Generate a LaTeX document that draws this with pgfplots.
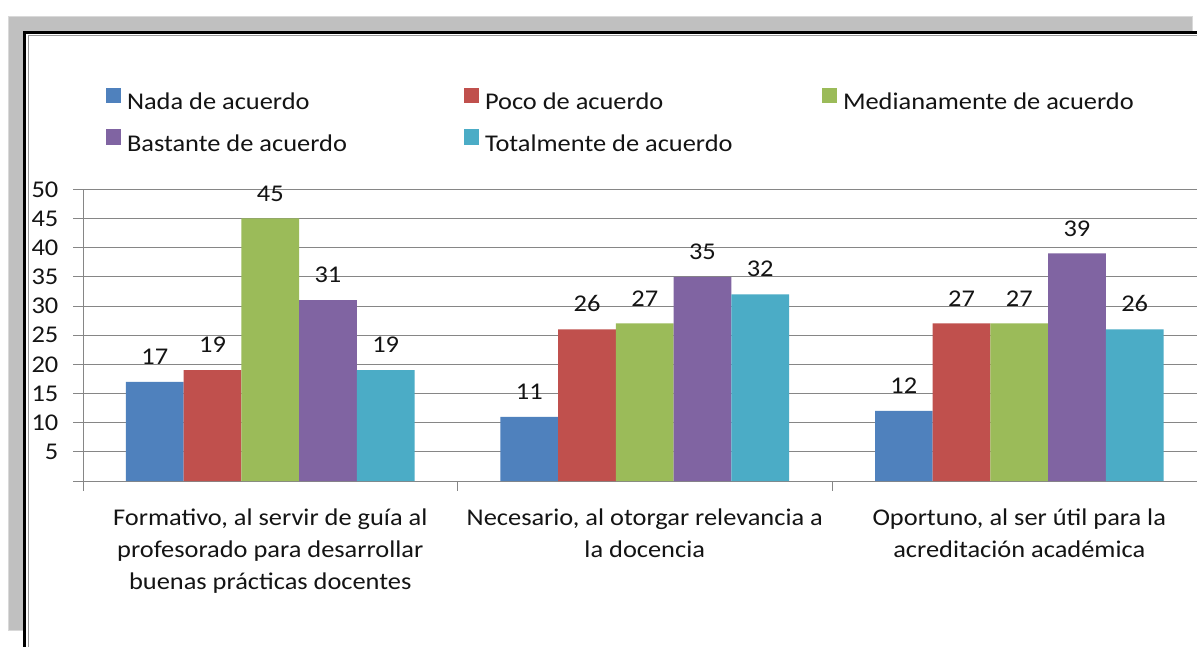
\documentclass[border=0pt]{standalone}
\usepackage{pgfplots}
\pgfplotsset{compat=1.18}
\usepackage{pgfplotstable}
\usepackage{fontspec}
\setmainfont{Carlito}[FakeStretch=1.1]
\definecolor{cA}{RGB}{79,129,189}
\definecolor{cB}{RGB}{192,80,77}
\definecolor{cC}{RGB}{155,187,89}
\definecolor{cD}{RGB}{128,100,162}
\definecolor{cE}{RGB}{75,172,198}
\definecolor{gridc}{RGB}{134,134,134}
\definecolor{shadowc}{RGB}{192,192,192}
\definecolor{txt}{RGB}{20,20,20}
\pgfplotsset{sq/.style={legend image code/.code={\fill[##1] (0pt,-1pt) rectangle (15pt,14.5pt);}}}

\pgfplotstableread{
x A B C D E
0.5 17 19 45 31 19
1.5 11 26 27 35 32
2.5 12 27 27 39 26
}\data

\begin{document}
\begin{tikzpicture}[x=1pt,y=1pt]
\useasboundingbox (0,0) rectangle (1197,646);
\fill[white] (0,0) rectangle (1197,646);
\clip (0,0) rectangle (1197,646);
\filldraw[fill=shadowc, draw=white!85!black, line width=0.8] (8,16) rectangle (1192,630);
\fill[white] (24,-20) rectangle (1220,614);
\draw[gray!80, line width=0.8] (28,-20) -- (28,610.5) -- (1220,610.5);
\draw[black, line width=2.5] (24.5,-20) -- (24.5,613.5) -- (1220,613.5);
\begin{axis}[
  at={(83pt,165pt)}, anchor=south west,
  scale only axis, width=1123.5pt, height=291.7pt,
  xmin=0, xmax=3, ymin=0, ymax=50,
  clip=false,
  ybar=0pt, bar width=57.7pt,
  axis x line*=bottom, axis y line*=left,
  axis line style={gridc, line width=0.8pt, -},
  tick align=outside, major tick length=9.5pt,
  tick style={gridc, line width=0.8pt},
  ymajorgrids, grid style={gridc, line width=0.8pt},
  ytick={0,5,...,50}, yticklabels={,5,10,15,20,25,30,35,40,45,50},
  xtick={0,1,2,3}, xticklabels={,,,},
  tick label style={font=\fontsize{24}{32}\selectfont, text=txt},
  yticklabel style={inner sep=0pt, xshift=-15pt},
  /pgf/number format/assume math mode=true,
  extra x ticks={0.5,1.5,2.5},
  extra x tick labels={{Formativo, al servir de guía al\\profesorado para desarrollar\\buenas prácticas docentes},{Necesario, al otorgar relevancia a\\la docencia},{Oportuno, al ser útil para la\\acreditación académica}},
  extra x tick style={major tick style={draw=none}, xticklabel style={align=center, inner sep=0pt, yshift=-18pt}},
  nodes near coords,
  every node near coord/.append style={font=\fontsize{24}{29}\selectfont, text=txt, inner sep=0pt, yshift=17pt},
  every axis plot post/.append style={sq},
  legend columns=3,
  legend cell align=left,
  legend style={at={(0.02047,1.349)}, anchor=north west, draw=none, fill=none, inner sep=0pt, outer sep=0pt,
    font=\fontsize{24}{29}\selectfont, text=txt, row sep=18pt,
    /tikz/every odd column/.append style={column sep=6pt}, nodes={inner sep=0pt}},
]
\addplot[fill=cA, draw=none] table[x=x, y=A]{\data};
\addlegendentry{\makebox[337pt][l]{Nada de acuerdo}}
\addplot[fill=cB, draw=none] table[x=x, y=B]{\data};
\addlegendentry{\makebox[337pt][l]{Poco de acuerdo}}
\addplot[fill=cC, draw=none] table[x=x, y=C]{\data};
\addlegendentry{Medianamente de acuerdo}
\addplot[fill=cD, draw=none] table[x=x, y=D]{\data};
\addlegendentry{\makebox[337pt][l]{Bastante de acuerdo}}
\addplot[fill=cE, draw=none] table[x=x, y=E]{\data};
\addlegendentry{\makebox[337pt][l]{Totalmente de acuerdo}}
\end{axis}
\end{tikzpicture}
\end{document}
